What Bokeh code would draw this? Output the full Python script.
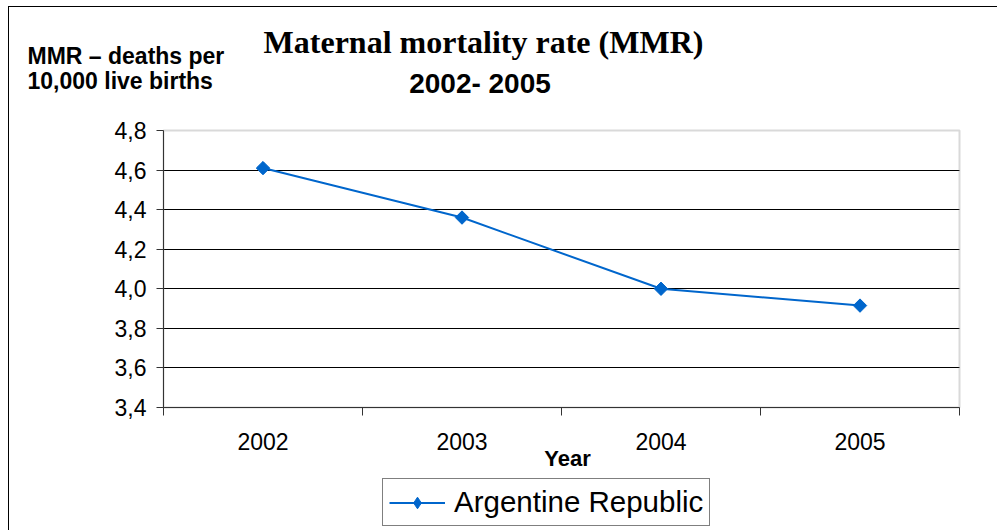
from bokeh.plotting import figure
from bokeh.models import (FixedTicker, Label, Legend, LegendItem, Range1d,
                          ColumnDataSource, BoxAnnotation)
from bokeh.embed import file_html
from bokeh.resources import INLINE
import numpy as np

# ---- data ----
YEARS = ["2002", "2003", "2004", "2005"]
MMR = [4.61, 4.36, 4.00, 3.915]
Y_TICKS = [3.4, 3.6, 3.8, 4.0, 4.2, 4.4, 4.6, 4.8]
Y_TICK_LABELS = ["3,4", "3,6", "3,8", "4,0", "4,2", "4,4", "4,6", "4,8"]
SERIES_NAME = "Argentine Republic"
TITLE_1 = "Maternal mortality rate (MMR)"
TITLE_2 = "2002- 2005"
YLABEL_1 = "MMR \u2013 deaths per"
YLABEL_2 = "10,000 live births"
XLABEL = "Year"

BLUE = "#0066CC"
SANS = "Liberation Sans"
SERIF = "Liberation Serif"

# ---- layout (page pixels) ----
W, H = 989, 524          # canvas size
OX, OY = 9, 7            # canvas origin on page (margin + border)
PL, PR, PT, PB = 163, 959, 130, 407   # plot area on page

xpos = list(range(1, len(YEARS) + 1))
x_lo, x_hi = 0.5, len(YEARS) + 0.5
y_lo, y_hi = Y_TICKS[0], Y_TICKS[-1]
ux = (PR - PL) / (x_hi - x_lo)
uy = (PB - PT) / (y_hi - y_lo)
xr = Range1d(x_lo - (PL - OX) / ux, x_hi + (OX + W - PR) / ux)
yr = Range1d(y_lo - (OY + H - PB) / uy, y_hi + (PT - OY) / uy)

src = ColumnDataSource(dict(x=xpos, y=MMR, year=YEARS))

p = figure(width=W, height=H, output_backend="svg", toolbar_location=None,
           x_range=xr, y_range=yr, min_border=0,
           min_border_left=0, min_border_right=0,
           min_border_top=0, min_border_bottom=0)
p.styles = {"margin-left": "8px", "margin-top": "6px",
            "border-left": "1px solid black", "border-top": "1px solid black"}
p.background_fill_color = "white"
p.border_fill_color = "white"
p.outline_line_color = None

# plot-area box (top/right edges gray)
p.add_layout(BoxAnnotation(left=x_lo, right=x_hi, bottom=y_lo, top=y_hi,
                           fill_alpha=0, line_color="#808080", line_width=2,
                           level="underlay"))

# axes
p.yaxis.fixed_location = x_lo
p.yaxis.bounds = (y_lo, y_hi)
p.yaxis.ticker = FixedTicker(ticks=Y_TICKS)
p.yaxis.major_label_overrides = {t: l for t, l in zip(Y_TICKS, Y_TICK_LABELS)}
p.yaxis.major_tick_out = 7
p.yaxis.major_tick_in = 0
p.yaxis.minor_tick_line_color = None
p.yaxis.major_label_standoff = 10
p.yaxis.major_label_text_font = SANS
p.yaxis.major_label_text_font_size = "23px"
p.yaxis.major_label_text_color = "black"
p.yaxis.axis_line_color = "#333333"
p.yaxis.major_tick_line_color = "#333333"

bounds = [i + 0.5 for i in range(len(YEARS) + 1)]
p.xaxis.fixed_location = y_lo
p.xaxis.bounds = (x_lo, x_hi)
p.xaxis.ticker = FixedTicker(ticks=xpos, minor_ticks=bounds)
p.xaxis.major_label_overrides = {x: y for x, y in zip(xpos, YEARS)}
p.xaxis.major_tick_out = 0
p.xaxis.major_tick_in = 0
p.xaxis.minor_tick_out = 8
p.xaxis.minor_tick_in = 0
p.xaxis.minor_tick_line_color = "#333333"
p.xaxis.major_label_standoff = 17
p.xaxis.major_label_text_font = SANS
p.xaxis.major_label_text_font_size = "23px"
p.xaxis.major_label_text_color = "black"
p.xaxis.axis_line_color = "#333333"

# grid
p.xgrid.grid_line_color = None
p.ygrid.ticker = FixedTicker(ticks=Y_TICKS[1:-1])
p.ygrid.cross_bounds = (x_lo, x_hi)
p.ygrid.grid_line_color = "black"
p.ygrid.grid_line_width = 1

# series
dm = p.scatter("x", "y", source=src, marker="diamond", size=12,
               fill_color=BLUE, line_color=BLUE)
ln = p.line("x", "y", source=src, line_color=BLUE, line_width=2)
sc = p.scatter("x", "y", source=src, marker="square", angle=np.pi / 4,
               size=9.5, fill_color=BLUE, line_color=BLUE)

legend = Legend(items=[LegendItem(label=SERIES_NAME, renderers=[ln, dm])],
                location=(382 - OX, OY + H - 526), orientation="vertical",
                label_text_font=SANS, label_text_font_size="29.5px",
                label_text_line_height=1.0,
                label_text_color="black",
                glyph_width=56, glyph_height=29, label_height=29,
                label_standoff=9, padding=6, margin=0, spacing=0,
                border_line_color="black", border_line_width=1,
                background_fill_color="white", background_fill_alpha=1)
p.add_layout(legend, "center")


def lab(text, px, py, font, size, align="left"):
    return Label(x=px - OX, y=py - OY, x_units="canvas", y_units="canvas",
                 text=text, text_align=align, text_baseline="alphabetic",
                 text_font=font, text_font_style="bold", text_font_size=size,
                 text_color="black")


p.add_layout(lab(TITLE_1, 482, 40, SERIF, "32px", "center"))
p.add_layout(lab(TITLE_2, 478.5, 82, SANS, "28px", "center"))
p.add_layout(lab(YLABEL_1, 26, 54, SANS, "23px"))
p.add_layout(lab(YLABEL_2, 26, 79, SANS, "23px"))
p.add_layout(lab(XLABEL, 566, 457, SANS, "22px", "center"))

open("out.html", "w").write(file_html(p, INLINE))
